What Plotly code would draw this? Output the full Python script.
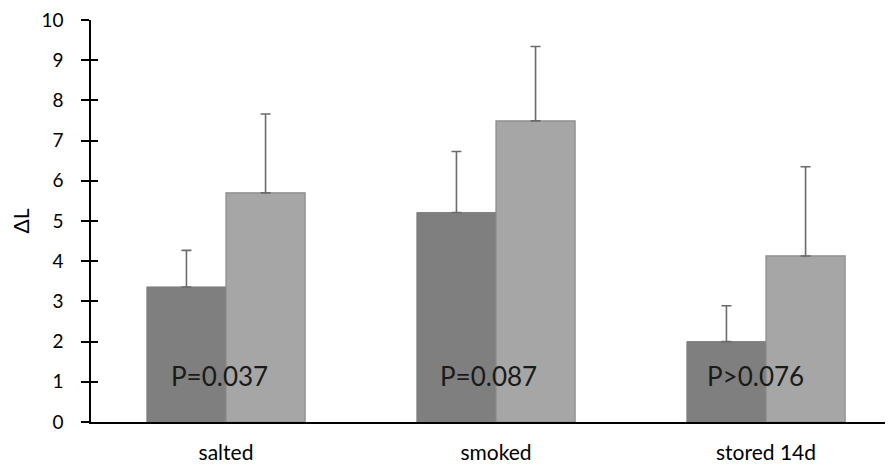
import plotly.graph_objects as go

categories = ["salted", "smoked", "stored 14d"]
dark_values = [3.36, 5.21, 2.00]
dark_upper = [4.27, 6.73, 2.89]
light_values = [5.70, 7.49, 4.13]
light_upper = [7.66, 9.34, 6.35]
p_labels = ["P=0.037", "P=0.087", "P>0.076"]
y_ticks = list(range(0, 11))

dark_err = [u - v for u, v in zip(dark_upper, dark_values)]
light_err = [u - v for u, v in zip(light_upper, light_values)]

FONT = "Lato"

fig = go.Figure()
fig.add_trace(go.Bar(
    x=categories, y=dark_values, name="dark",
    marker=dict(color="#7f7f7f", line=dict(color="#7f7f7f", width=1)),
    error_y=dict(type="data", symmetric=False, array=dark_err,
                 arrayminus=[0] * len(dark_err),
                 color="#6b6b6b", thickness=1.6, width=5),
))
fig.add_trace(go.Bar(
    x=categories, y=light_values, name="light",
    marker=dict(color="#a6a6a6", line=dict(color="#8a8a8a", width=1.2)),
    error_y=dict(type="data", symmetric=False, array=light_err,
                 arrayminus=[0] * len(light_err),
                 color="#6b6b6b", thickness=1.6, width=5),
))
# invisible trace so the overlaid axis (inner tick marks) is drawn
fig.add_trace(go.Scatter(x=categories, y=dark_values, yaxis="y2", mode="markers",
                         marker=dict(opacity=0), hoverinfo="skip", showlegend=False))

offsets = [-0.025, -0.026, -0.038]
for i, (lab, off) in enumerate(zip(p_labels, offsets)):
    fig.add_annotation(x=i + off, y=1.15, xref="x", yref="y", text=lab,
                       showarrow=False,
                       font=dict(family=FONT, size=26, color="#1a1a1a"))

# the page body has an 8px margin, so the figure is offset by 8px
fig.update_layout(
    width=893, height=468,
    margin=dict(l=83, r=0, t=12, b=54),
    paper_bgcolor="white", plot_bgcolor="white",
    barmode="group", bargap=0.414, bargroupgap=0,
    showlegend=False,
    font=dict(family=FONT, color="#000000"),
    xaxis=dict(type="category", range=[-0.5, 2.5], automargin=False,
               showline=True, linecolor="#000000", linewidth=1.5,
               ticks="", showgrid=False, zeroline=False,
               tickfont=dict(family=FONT, size=21, color="#000000"),
               ticklabelstandoff=11, ticklabeloverflow="allow"),
    yaxis=dict(range=[0, 10], tickvals=y_ticks, showline=True, automargin=False,
               linecolor="#000000", linewidth=1.5,
               ticks="outside", ticklen=8, tickwidth=1.5, tickcolor="#000000",
               showgrid=False, zeroline=False,
               tickfont=dict(family=FONT, size=19, color="#000000"),
               ticklabelstandoff=14, ticklabeloverflow="allow",
               title=dict(text="ΔL", font=dict(family=FONT, size=21, color="#000000"),
                          standoff=18)),
    yaxis2=dict(range=[0, 10], tickvals=y_ticks, overlaying="y", side="left",
                anchor="x", showline=False, ticks="inside", ticklen=7, tickwidth=1.5,
                tickcolor="#000000", showticklabels=False, showgrid=False,
                zeroline=False, automargin=False),
)

fig.write_html("out.html")
